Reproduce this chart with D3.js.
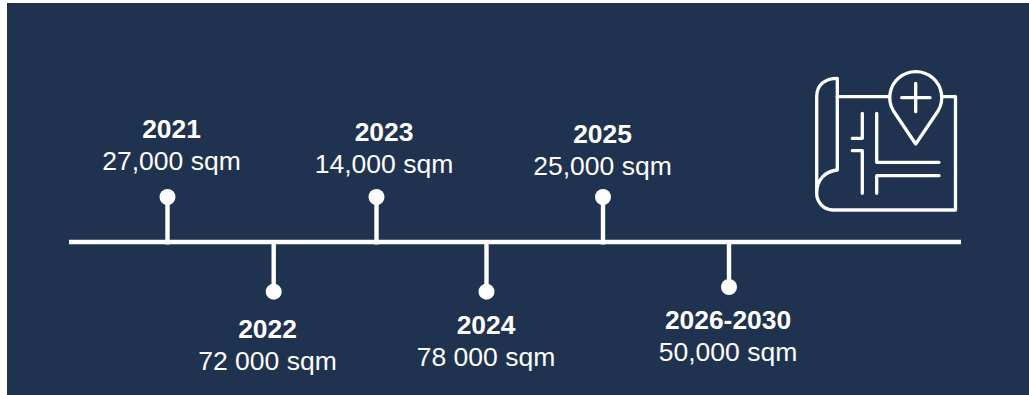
<!DOCTYPE html>
<html>
<head>
<meta charset="utf-8">
<script src="https://cdn.jsdelivr.net/npm/d3@7"></script>
<style>
html,body{margin:0;padding:0;background:#fff;overflow:hidden}
svg{display:block}
text{font-family:"Liberation Sans",Arial,sans-serif;fill:#fff;text-anchor:middle}
</style>
</head>
<body>
<svg id="c" width="1029" height="395"></svg>
<script>
const periods = ["2021","2022","2023","2024","2025","2026-2030"];
const areaLabels = ["27,000 sqm","72 000 sqm","14,000 sqm","78 000 sqm","25,000 sqm","50,000 sqm"];
const sides = ["up","down","up","down","up","down"];

const stemX = d3.scaleOrdinal().domain(periods).range([167.5,273.7,376.5,486.5,603,729]);
const labelX = d3.scaleOrdinal().domain(periods).range([171.5,267.5,384,486,602.5,728]);
const yearY = d3.scaleOrdinal().domain(periods).range([138,338,141,334,143,329]);
const dotY = d3.scaleOrdinal().domain(periods).range([197,291.7,197,291.7,197,287]);

const svg = d3.select("#c");
svg.append("rect").attr("x",7).attr("y",3).attr("width",1022).attr("height",392).attr("fill","#1f3250");

const axisY = 242;
svg.append("line").attr("x1",69).attr("x2",961).attr("y1",axisY).attr("y2",axisY)
  .attr("stroke","#fff").attr("stroke-width",4.6);

const g = svg.selectAll("g.m").data(periods).join("g").attr("class","m");
g.append("line").attr("x1",d=>stemX(d)).attr("x2",d=>stemX(d))
  .attr("y1",(d,i)=>sides[i]==="up"?244.5:axisY).attr("y2",d=>dotY(d))
  .attr("stroke","#fff").attr("stroke-width",4.4);
g.append("circle").attr("cx",d=>stemX(d)).attr("cy",d=>dotY(d)).attr("r",8).attr("fill","#fff");
g.append("text").attr("x",d=>labelX(d)).attr("y",d=>yearY(d))
  .attr("font-size",26.4).attr("font-weight","bold").text(d=>d);
g.append("text").attr("x",d=>labelX(d)).attr("y",d=>yearY(d)+32)
  .attr("font-size",26.5).text((d,i)=>areaLabels[i]);

const iconPaths = [
  "M837.3 96.7H889.5",
  "M941.5 96.7H955.5V210H833A16.5 16.5 0 0 1 816.7 193.3V96.7C816.7 85 825 78.3 837.3 78.3V170C826 171 816.7 179 816.7 193.3",
  "M915.7 144L893.5 111A26 26 0 1 1 938 111Z",
  "M901.7 97.7H930M915.7 83.5V111.7",
  "M862.3 113.3V138.3H852.3",
  "M852.3 150.7H862.3V193.3",
  "M876.7 113.3V162.3H939",
  "M939 175.7H876.7V193.3"
];
svg.append("g").selectAll("path").data(iconPaths).join("path").attr("d",d=>d)
  .attr("fill","none").attr("stroke","#fff").attr("stroke-width",3.3)
  .attr("stroke-linecap","round").attr("stroke-linejoin","round");
</script>
</body>
</html>
